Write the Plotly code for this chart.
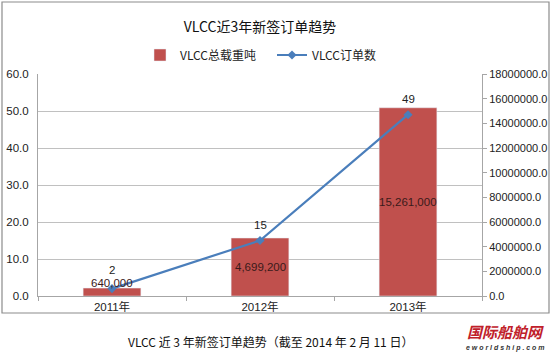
import plotly.graph_objects as go

categories = ["2011年", "2012年", "2013年"]
tonnage = [640000, 4699200, 15261000]
orders = [2, 15, 49]
tonnage_labels = ["640,000", "4,699,200", "15,261,000"]

FONT = "Liberation Sans, Arial, Noto Sans CJK SC"
CJK = "Noto Sans CJK SC, Liberation Sans"

fig = go.Figure()
# bars on primary axis (right side) so the line (overlaying axis) is drawn on top
fig.add_trace(go.Bar(
    x=categories, y=tonnage, name="VLCC总载重吨", yaxis="y",
    marker=dict(color="#c0504d"), width=0.39,
))
fig.add_trace(go.Scatter(
    x=categories, y=orders, name="VLCC订单数", yaxis="y2",
    mode="lines+markers",
    line=dict(color="#4a7ebb", width=2.2),
    marker=dict(symbol="diamond", size=7, color="#4a7ebb"),
))

# bar data labels centered in bars
for i, (c, v, t) in enumerate(zip(categories, tonnage, tonnage_labels)):
    fig.add_annotation(x=c, y=v / 2, yref="y", text=t, showarrow=False,
                       yshift=9 if i == 0 else 0,
                       font=dict(size=11.5, color="#3a1a1a", family=FONT))
# line data labels above points
for i, (c, v) in enumerate(zip(categories, orders)):
    fig.add_annotation(x=c, y=v, yref="y2", text=str(v), showarrow=False,
                       yshift=19 if i == 0 else 16,
                       font=dict(size=11.5, color="#222222", family=FONT))

fig.update_layout(
    width=552, height=355,
    margin=dict(l=38, r=70, t=74, b=59),
    paper_bgcolor="white", plot_bgcolor="white",
    font=dict(family=FONT, size=11, color="#222222"),
    title=dict(text="VLCC近3年新签订单趋势", x=0.5, xref="paper", xanchor="center",
               y=1 - 27 / 355, yanchor="middle",
               font=dict(size=14, color="#111111", family=CJK)),
    legend=dict(orientation="h", x=(140 - 38) / 444, xanchor="left", y=1 + 19 / 222,
                yanchor="middle", font=dict(size=12, family=CJK),
                itemwidth=30, entrywidth=87, entrywidthmode="pixels", traceorder="normal"),
    showlegend=True,
    xaxis=dict(showgrid=False, showline=True, linecolor="#a6a6a6", ticks="outside",
               tickson="boundaries", ticklen=4, tickcolor="#a6a6a6",
               tickfont=dict(size=11.5, family=FONT), zeroline=False),
    yaxis=dict(range=[0, 18000000], dtick=2000000, tickformat=".1f",
               side="right", showgrid=False, showline=True, linecolor="#a6a6a6",
               ticks="outside", ticklen=4, tickcolor="#a6a6a6", zeroline=False,
               tickfont=dict(size=11, family=FONT), automargin=False),
    yaxis2=dict(range=[0, 60], dtick=10, tickformat=".1f", overlaying="y", side="left",
                showgrid=True, gridcolor="#c0c0c0", showline=True, linecolor="#a6a6a6",
                zeroline=False, tickfont=dict(size=11.5, family=FONT), ticks="",
                ticklabelstandoff=6, automargin=False),
    bargap=0.6,
)

# outer chart frame
fig.add_shape(type="rect", xref="paper", yref="paper",
              x0=-36 / 444, x1=(549 - 38) / 444, y0=-(313 - 296) / 222, y1=1 + (74 - 2) / 222,
              line=dict(color="#8c8c8c", width=1.2), fillcolor="rgba(0,0,0,0)", layer="below")

# caption
fig.add_annotation(xref="paper", yref="paper", x=(270 - 38) / 444, y=-(341 - 296) / 222,
                   text="VLCC 近 3 年新签订单趋势（截至 2014 年 2 月 11 日）", showarrow=False,
                   font=dict(size=12, color="#111111", family=CJK),
                   xanchor="center", yanchor="middle")
# watermark logo text
fig.add_annotation(xref="paper", yref="paper", x=(505 - 38) / 444, y=-(331 - 296) / 222,
                   text="<b><i>国际船舶网</i></b>", showarrow=False,
                   font=dict(size=15, color="#c0202a", family="Noto Sans CJK SC"),
                   xanchor="center", yanchor="middle")
fig.add_annotation(xref="paper", yref="paper", x=(505 - 38) / 444, y=-(348 - 296) / 222,
                   text="<b><i>e w o r l d s h i p . c o m</i></b>", showarrow=False,
                   font=dict(size=7, color="#333333", family=FONT),
                   xanchor="center", yanchor="middle")

fig.write_html("out.html")
